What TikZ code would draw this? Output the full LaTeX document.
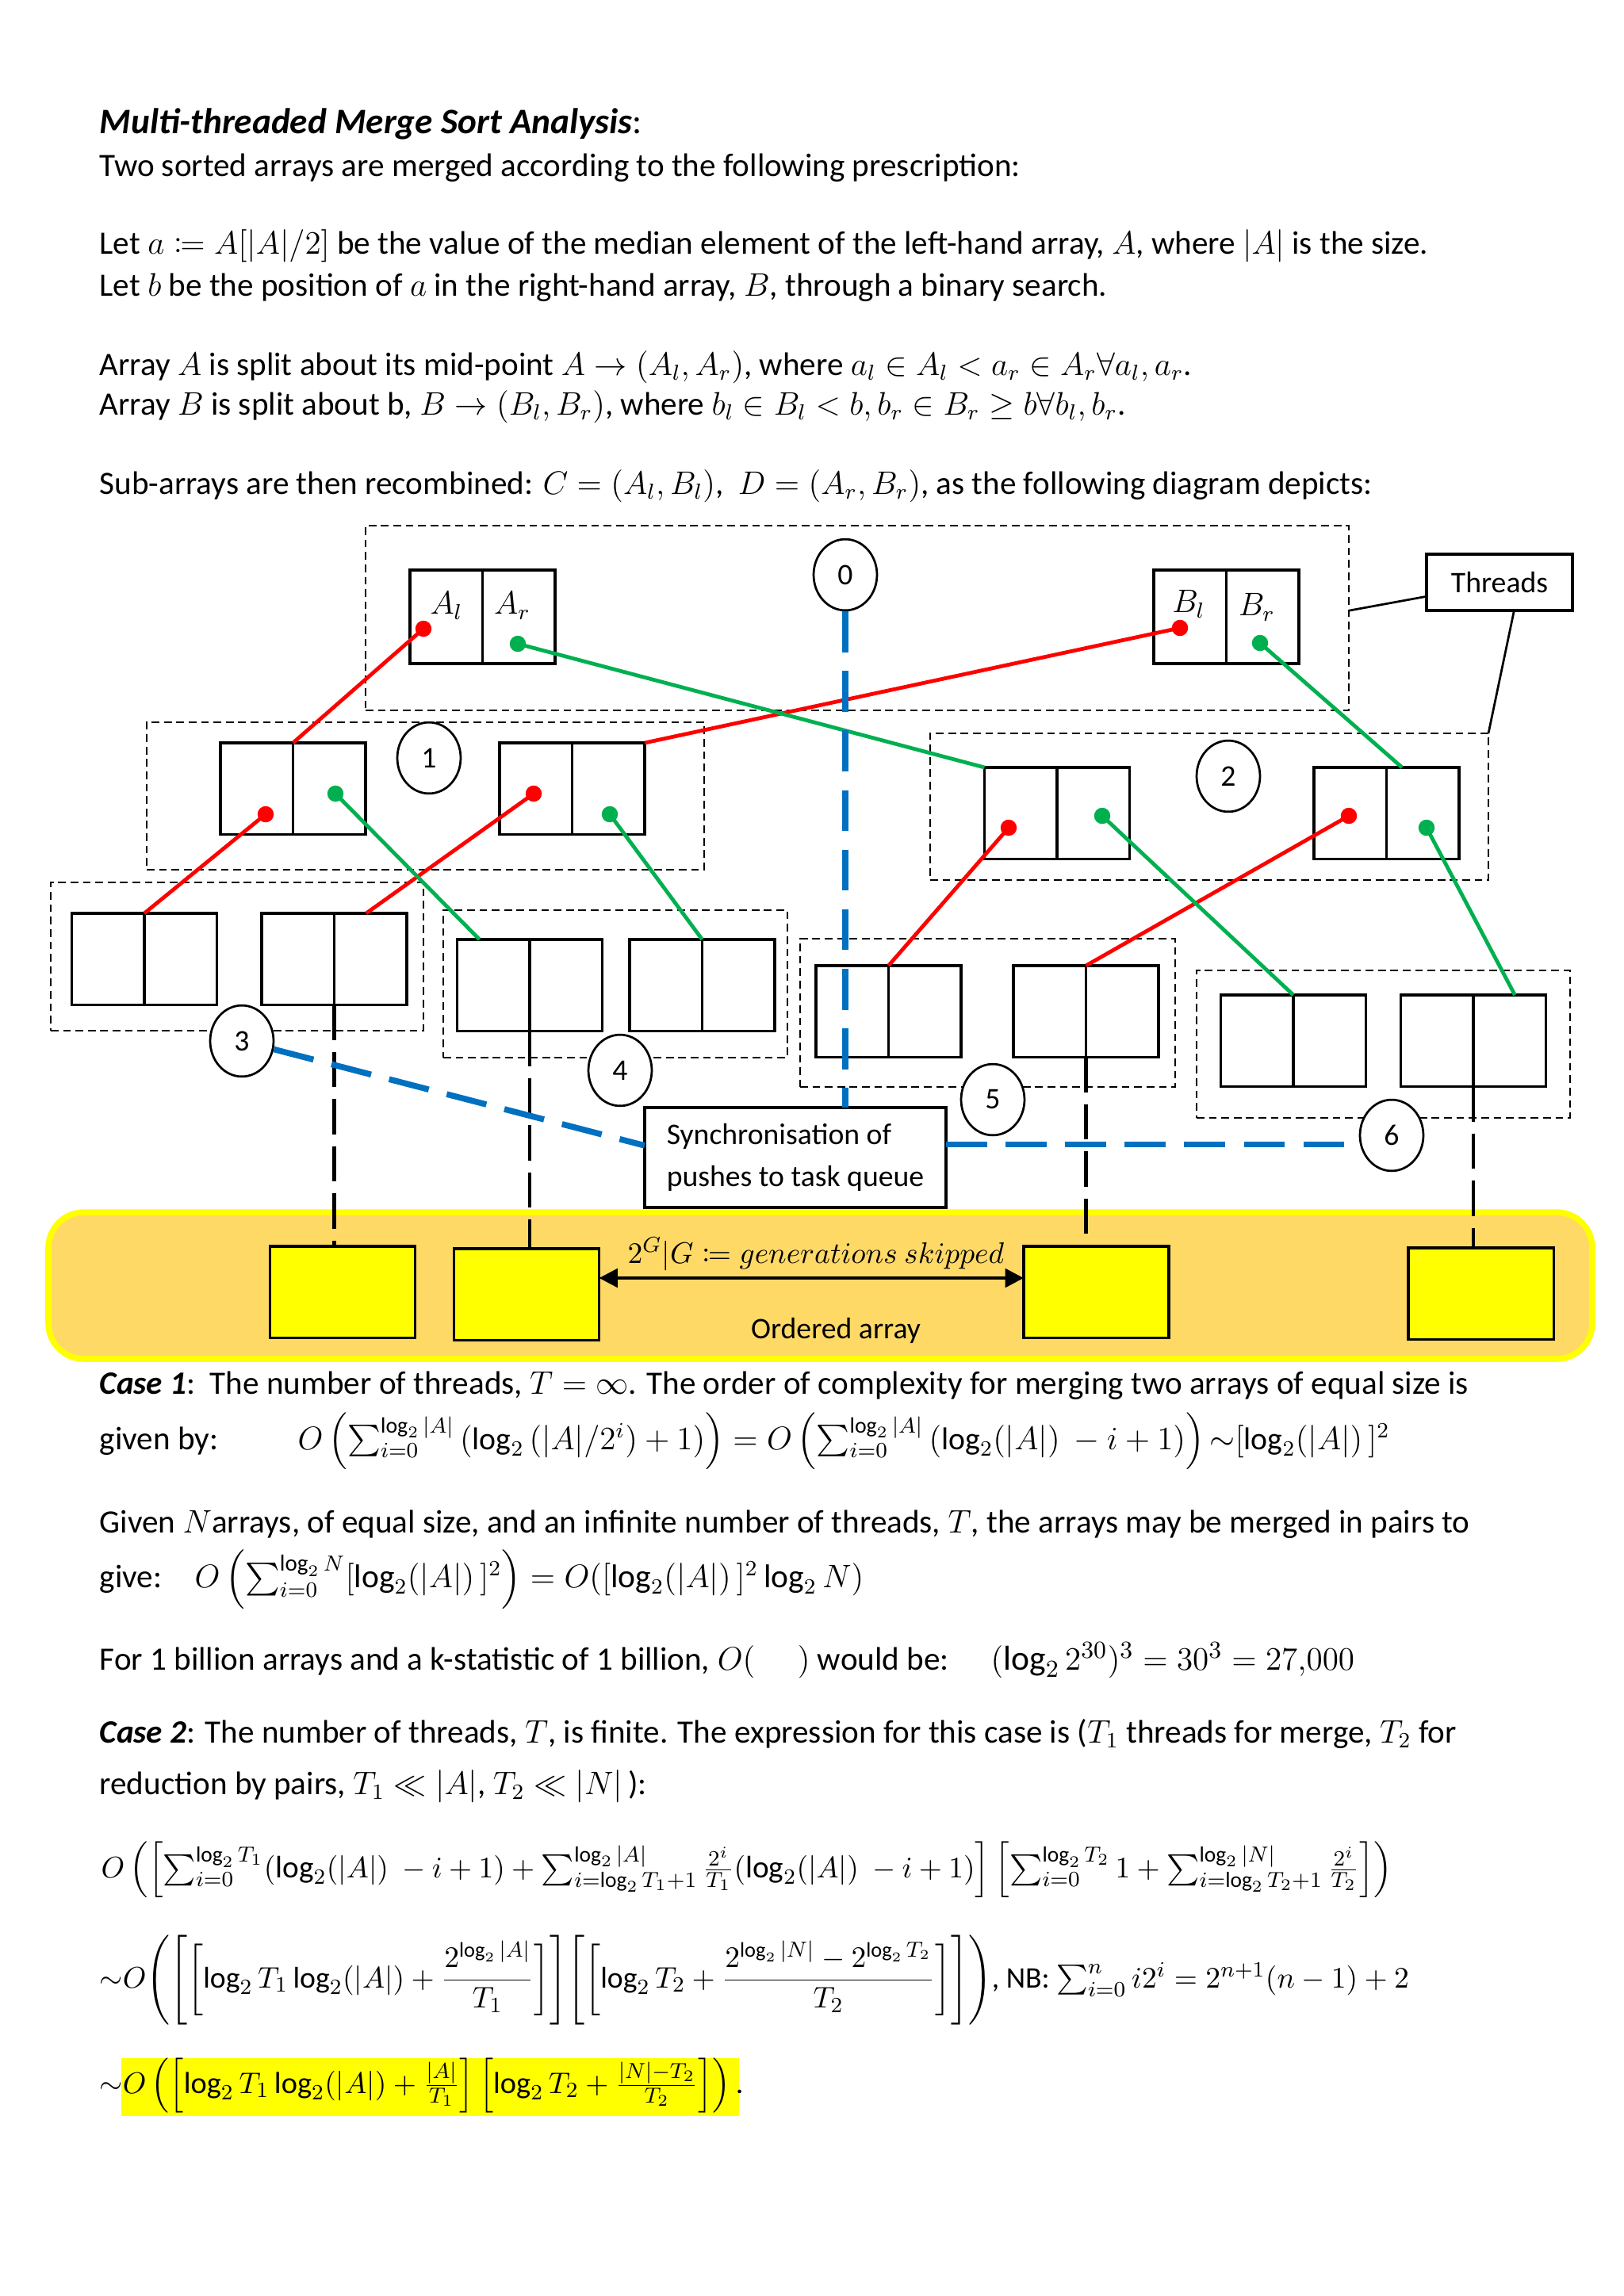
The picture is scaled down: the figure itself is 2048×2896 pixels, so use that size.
\documentclass[tikz,border=0pt]{standalone}
\usepackage{fontspec}
\setmainfont{Carlito}
\usepackage{amsmath,amssymb,mathtools}
\usetikzlibrary{shapes.geometric,arrows.meta,fit,calc}
\definecolor{myred}{HTML}{FF0000}
\definecolor{mygreen}{HTML}{00B050}
\definecolor{myblue}{HTML}{0070C0}
\definecolor{bandfill}{HTML}{FFD966}
\definecolor{myyellow}{HTML}{FFFF00}
\newcommand\bodyfont{\fontsize{12pt}{15.4pt}\selectfont}
\newcommand\diafont{\fontsize{11pt}{15.4pt}\selectfont}
\newcommand\titlefont{\fontsize{13.2pt}{16pt}\selectfont}
\newcommand\fsz[1]{\fontsize{#1}{15.4pt}\selectfont}
\begin{document}
\begin{tikzpicture}[x=0.10254mm,y=-0.10254mm,
  arr/.style={draw, line width=0.9pt, minimum width=18.77mm, minimum height=11.8mm, inner sep=0pt, outer sep=0pt},
  yarr/.style={arr, fill=myyellow},
  grp/.style={draw, dash pattern=on 1mm off 0.6mm, line width=0.7pt, inner sep=0pt, outer sep=0pt},
  num/.style={draw, fill=white, ellipse, line width=0.8pt, minimum width=8.2mm, minimum height=9.2mm, inner sep=0pt, font=\diafont},
  plainbox/.style={draw, fill=white, line width=0.9pt, inner sep=0pt, outer sep=0pt, font=\diafont},
  redl/.style={draw=myred, line width=1.4pt},
  greenl/.style={draw=mygreen, line width=1.4pt},
  bluel/.style={draw=myblue, line width=2.2pt, dash pattern=on 5.3mm off 2.4mm},
  blkd/.style={draw=black, line width=1.4pt, dash pattern=on 4.6mm off 1.5mm},
  txt/.style={anchor=base west, inner sep=0pt, font=\bodyfont},
  lab/.style={inner sep=0pt, font=\fontsize{12pt}{14pt}\selectfont}
]
\useasboundingbox (0,0) rectangle (2048,2896);
\fill[white] (0,0) rectangle (2048,2896);

% ---------- text above ----------
\node[txt, font=\titlefont] (title) at (125,168) {\textbf{\textit{Multi-threaded Merge Sort Analysis}}:};
\node[txt] (t2) at (125,222) {Two sorted arrays are merged according to the following prescription:};
\node[txt] (t3) at (125,320) {Let $a \coloneqq A[|A|/2]$ be the value of the median element of the left-hand array, $A$, where $|A|$ is the size.};
\node[txt] (t4) at (125,373) {Let $b$ be the position of $a$ in the right-hand array, $B$, through a binary search.};
\node[txt] (t5) at (125,473) {Array $A$ is split about its mid-point $A\rightarrow(A_l,A_r)$, where $a_l\in A_l<a_r\in A_r\forall a_l,a_r$.};
\node[txt] (t6) at (125,523) {Array $B$ is split about b, $B\rightarrow(B_l,B_r)$, where $b_l\in B_l<b,b_r\in B_r\geq b\forall b_l,b_r$.};
\node[txt] (t7) at (125,623) {Sub-arrays are then recombined: $C=(A_l,B_l)$,\ \ $D=(A_r,B_r)$, as the following diagram depicts:};

% ---------- group boxes ----------
\node[grp, fit={(461,663) (1701,896)}] (g0) {};
\node[grp, fit={(185,911) (888,1097)}] (g1) {};
\node[grp, fit={(1173,925) (1877,1110)}] (g2) {};
\node[grp, fit={(64,1113) (534,1300)}] (g3) {};
\node[grp, fit={(559,1148) (993,1334)}] (g4) {};
\node[grp, fit={(1009,1184) (1482,1371)}] (g5) {};
\node[grp, fit={(1509,1224) (1980,1410)}] (g6) {};

% ---------- band ----------
\node[draw=myyellow, fill=bandfill, line width=2.2pt, rounded corners=4.6mm, inner sep=0pt, fit={(61,1529) (2008,1714)}] (band) {};
\node[anchor=base, inner sep=0pt, font=\diafont] (ord) at (1054,1688) {Ordered array};

% ---------- arrays ----------
\node[arr, minimum height=12.1mm] (A) at (608.5,778) {};
\node[arr, minimum height=12.1mm] (B) at (1546.5,778) {};
\node[arr] (L1a) at (369.5,994.5) {};
\node[arr] (L1b) at (721.5,994.5) {};
\node[arr] (R1a) at (1333,1025.5) {};
\node[arr] (R1b) at (1748.5,1025.5) {};
\node[arr] (L3a) at (182,1209.5) {};
\node[arr] (L3b) at (421.5,1209.5) {};
\node[arr] (L4a) at (668,1242.5) {};
\node[arr] (L4b) at (885.5,1242.5) {};
\node[arr] (L5a) at (1120.5,1275.5) {};
\node[arr] (L5b) at (1369.5,1275.5) {};
\node[arr] (L6a) at (1631,1312.5) {};
\node[arr] (L6b) at (1858,1312.5) {};
\foreach \n in {A,B,L1a,L1b,R1a,R1b,L3a,L3b,L4a,L4b,L5a,L5b,L6a,L6b}
  \draw[line width=0.9pt] (\n.north) -- (\n.south);
\node[yarr] (Y1) at (432,1629.5) {};
\node[yarr] (Y2) at (664,1632.5) {};
\node[yarr] (Y3) at (1382.5,1629.5) {};
\node[yarr] (Y4) at (1867.5,1631.5) {};

% labels in top arrays
\node[lab] (lAl) at (563,764) {$A_l$};
\node[lab] (lAr) at (646,764) {$A_r$};
\node[lab] (lBl) at (1499,762) {$B_l$};
\node[lab] (lBr) at (1585,766) {$B_r$};

% ---------- numbered circles ----------
\node[num] (c0) at (1066,725) {0};
\node[num] (c1) at (541,956) {1};
\node[num] (c2) at (1549,979) {2};
\node[num] (c3) at (305,1313) {3};
\node[num] (c4) at (782,1350) {4};
\node[num] (c5) at (1252,1387) {5};
\node[num] (c6) at (1755,1432) {6};

% ---------- threads ----------
\node[plainbox, minimum width=18.87mm, minimum height=7.28mm] (th) at (1891,734.5) {Threads};
\draw[line width=0.8pt] ($(th.north west)!0.75!(th.south west)$) -- ($(g0.north east)!0.46!(g0.south east)$);
\draw[line width=0.8pt] ($(th.south west)!0.6!(th.south east)$) -- (g2.north east);

% ---------- sync box ----------
\node[plainbox, align=left, minimum width=38.97mm, minimum height=12.92mm] (sync) at (1003,1460) {Synchronisation of\\pushes to task queue};

% ---------- dot coordinates ----------
\coordinate (dAr) at (534,793);
\coordinate (dAg) at (653,812);
\coordinate (dBr) at (1488,792);
\coordinate (dBg) at (1589,811);
\coordinate (d1ar) at (335,1027);
\coordinate (d1ag) at (423,1001);
\coordinate (d1br) at (673,1001);
\coordinate (d1bg) at (769,1027);
\coordinate (dR1ar) at (1272,1044);
\coordinate (dR1ag) at (1390,1029);
\coordinate (dR1br) at (1701,1029);
\coordinate (dR1bg) at (1799,1044);

% red connectors
\draw[redl] (dAr) -- (L1a.north);
\draw[redl] (dBr) -- (L1b.north east);
\draw[redl] (d1ar) -- (L3a.north);
\draw[redl] (d1br) -- ($(L3b.north west)!0.72!(L3b.north east)$);
\draw[redl] (dR1ar) -- (L5a.north);
\draw[redl] (dR1br) -- (L5b.north);
% green connectors
\draw[greenl] (dAg) -- (R1a.north west);
\draw[greenl] (dBg) -- ($(R1b.north west)!0.607!(R1b.north east)$);
\draw[greenl] (d1ag) -- ($(L4a.north west)!0.154!(L4a.north east)$);
\draw[greenl] (d1bg) -- (L4b.north);
\draw[greenl] (dR1ag) -- (L6a.north);
\draw[greenl] (dR1bg) -- ($(L6b.north west)!0.786!(L6b.north east)$);
% dots
\foreach \d in {dAr,dBr,d1ar,d1br,dR1ar,dR1br} \fill[myred] (\d) circle (1.05mm);
\foreach \d in {dAg,dBg,d1ag,d1bg,dR1ag,dR1bg} \fill[mygreen] (\d) circle (1.05mm);

% ---------- black dashed verticals ----------
\draw[blkd] (L3b.south) -- (L3b.south |- Y1.north);
\draw[blkd] (L4a.south) -- (L4a.south |- Y2.north);
\draw[blkd] (L5b.south) -- (L5b.south |- Y3.north);
\draw[blkd] (L6b.south) -- (L6b.south |- Y4.north);

% ---------- blue dashed ----------
\coordinate (sw) at ($(sync.north west)!0.38!(sync.south west)$);
\coordinate (se) at ($(sync.north east)!0.37!(sync.south east)$);
\draw[bluel] (c0.south) -- (c0.south |- sync.north);
\draw[bluel] (c3) -- (sw);
\draw[bluel] (se) -- (se -| c6.west);

% ---------- arrow ----------
\coordinate (arrY) at (0,1612);
\draw[line width=1.3pt, {Triangle[length=2.4mm,width=2.4mm]}-{Triangle[length=2.4mm,width=2.4mm]}] (Y2.east |- arrY) -- (Y3.west |- arrY);
\node[anchor=base, inner sep=0pt, font=\diafont] (gen) at (1029,1593) {$2^G|G\coloneqq generations\ skipped$};

% ---------- text below ----------
\node[txt] (t8) at (125,1758) {\textbf{\textit{Case 1}}:\ \ The number of threads, $T=\infty$. The order of complexity for merging two arrays of equal size is};
\node[txt] (t9) at (125,1828) {given by:};
\node[txt, font=\fsz{11.6pt}] (e1) at (375,1828) {$O\left(\sum_{i=0}^{\log_2|A|}\left(\log_2\left(|A|/2^i\right)+1\right)\right)=O\left(\sum_{i=0}^{\log_2|A|}\left(\log_2(|A|)\ -i+1\right)\right){\sim}[\log_2(|A|)\,]^2$};
\node[txt] (t10) at (125,1933) {Given $N$arrays, of equal size, and an infinite number of threads, $T$, the arrays may be merged in pairs to};
\node[txt] (t11) at (125,2002) {give:};
\node[txt, font=\fsz{12.1pt}] (e2) at (245,2002) {$O\left(\sum_{i=0}^{\log_2N}[\log_2(|A|)\,]^2\right)=O([\log_2(|A|)\,]^2\log_2N)$};
\node[txt] (t12) at (125,2106) {For 1 billion arrays and a k-statistic of 1 billion, $O(\hspace{5.5mm})$ would be:};
\node[txt, font=\fsz{12.7pt}] (e3) at (1249,2106) {$(\log_2 2^{30})^3=30^3=27{,}000$};
\node[txt] (t13) at (125,2198) {\textbf{\textit{Case 2}}: The number of threads, $T$, is finite. The expression for this case is ($T_1$ threads for merge, $T_2$ for};
\node[txt] (t14) at (125,2263) {reduction by pairs, $T_1\ll|A|$, $T_2\ll|N|$\,):};

\node[txt, font=\fsz{11.45pt}] (e4) at (127,2368) {$O\left(\left[\sum_{i=0}^{\log_2 T_1}(\log_2(|A|)\ -i+1)+\sum_{i=\log_2T_1+1}^{\log_2|A|}\frac{2^i}{T_1}(\log_2(|A|)\ -i+1)\right]\left[\sum_{i=0}^{\log_2T_2}1+\sum_{i=\log_2T_2+1}^{\log_2|N|}\frac{2^i}{T_2}\right]\right)$};
\node[txt, font=\fsz{11pt}] (e5) at (125,2507) {${\sim}O\Biggl(\Biggl[\biggl[\log_2T_1\log_2(|A|)+\dfrac{2^{\log_2|A|}}{T_1}\biggr]\Biggr]\Biggl[\biggl[\log_2T_2+\dfrac{2^{\log_2|N|}-2^{\log_2T_2}}{T_2}\biggr]\Biggr]\Biggr)$, NB: $\sum_{i=0}^{n}i2^i=2^{n+1}(n-1)+2$};
\fill[myyellow] (153,2596) rectangle (932,2669);
\node[txt, font=\fsz{11.2pt}] (e6) at (125,2640) {${\sim}O\left(\left[\log_2T_1\log_2(|A|)+\frac{|A|}{T_1}\right]\left[\log_2T_2+\frac{|N|-T_2}{T_2}\right]\right)$\,.};
\end{tikzpicture}
\end{document}
